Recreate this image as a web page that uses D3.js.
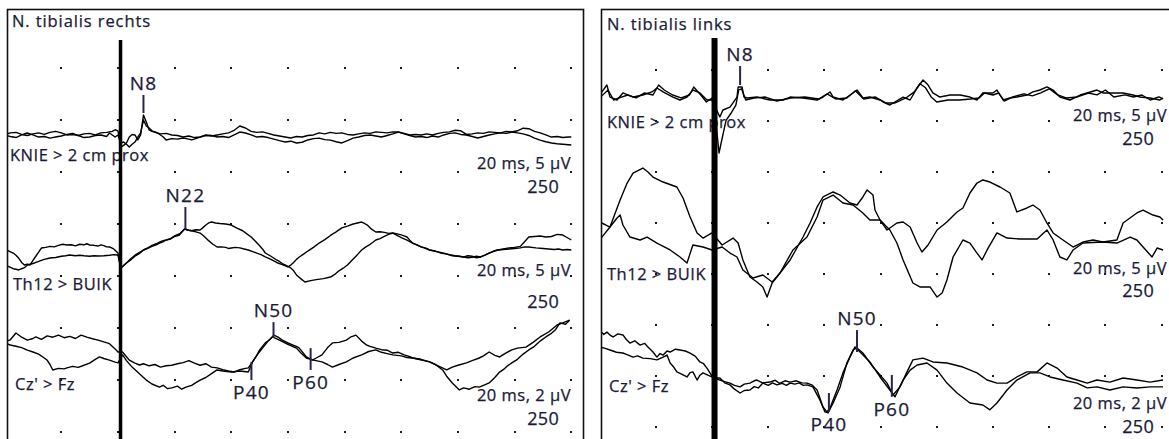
<!DOCTYPE html>
<html><head><meta charset="utf-8">
<script src="https://cdn.jsdelivr.net/npm/d3@7"></script>
<style>
body{margin:0;background:#fff}
svg{display:block}
text{font-family:"Open Sans",sans-serif;fill:#1a1a38;stroke:#1a1a38;stroke-width:0.25px}
</style>
</head><body>
<svg id="c" width="1169" height="439"></svg>
<script>
// ---------- DATA ----------
const panelTitles = ["N. tibialis rechts", "N. tibialis links"];
const traceNames = ["KNIE > 2 cm prox", "Th12 > BUIK", "Cz' > Fz"];
const scaleLabels = ["20 ms, 5 µV", "20 ms, 5 µV", "20 ms, 2 µV"];
const sweepLabels = ["250", "250", "250"];
const gridTimesMs = [-20, 0, 20, 40, 60, 80, 100, 120, 140, 160];
const gridRows = [0, 1, 2, 3, 4, 5, 6, 7];
const stimulusMs = 0.9;

// [ms, µV]
const L1a = [[-40,0.1],[-38,0.3],[-36,0.35],[-34,0.15],[-32,0.05],[-30,0.2],[-28,0.3],[-26,0.15],[-24,0.35],[-22,0.45],[-20,0.3],[-18,0.1],[-16,0.15],[-14,0.05],[-12,0.2],[-10,0.25],[-8,0.1],[-6,0.3],[-4,0.35],[-2,0.45],[-1,0.6],[0,0.5],[1,-1.06],[2,-0.9],[3,-0.67],[4,-0.1],[5,0.15],[6,0.1],[7,-0.38],[8,0.1],[9,2.02],[10,1.35],[11,0.58],[12,0.45],[13,0.38],[15,0.2],[17,0.25],[19,0.1],[21,0.05],[23,-0.1],[25,0],[27,-0.15],[29,-0.1],[31,0.05],[33,0],[35,0.1],[37,0.2],[39,0.3],[41,0.55],[43,0.96],[45,0.77],[47,0.45],[49,0.35],[51,0.4],[53,0.25],[55,0.1],[57,0],[59,-0.1],[61,-0.19],[63,-0.05],[65,-0.1],[67,0.05],[69,0.1],[71,0.3],[73,0.2],[75,0.35],[77,0.25],[79,0.3],[81,0.15],[83,0.1],[85,0.2],[87,0.3],[89,0.25],[91,0.4],[93,0.35],[95,0.3],[97,0.4],[99,0.38],[101,0.25],[103,0.1],[105,0.15],[107,0.1],[109,0.2],[111,0.1],[113,0.25],[115,0.35],[117,0.4],[119,0.55],[121,0.5],[123,0.15],[125,0.2],[127,0.3],[129,0.25],[131,0.4],[133,0.35],[135,0.3],[137,0.45],[139,0.38],[141,0.5],[143,0.75],[145,0.7],[147,0.45],[149,0.3],[151,0.1],[153,-0.1],[155,-0.05],[157,-0.15],[159,-0.1],[160,-0.1]];
const L1b = [[-40,0.1],[-38,-0.05],[-36,-0.15],[-34,0.1],[-32,0.29],[-30,0.1],[-28,-0.1],[-26,-0.05],[-24,-0.2],[-22,-0.1],[-20,0],[-18,0.15],[-16,0.25],[-14,0.05],[-12,-0.15],[-10,-0.1],[-8,0.05],[-6,0.1],[-4,-0.05],[-3,0.29],[-2,0.1],[-1,-0.1],[0,0.1],[1,-0.67],[2,-0.58],[3,-0.8],[4,-1.06],[5,-0.8],[6,-0.58],[7,-0.1],[8,0.3],[9,1.54],[10,0.96],[11,0.77],[12,0.5],[14,0.29],[16,-0.1],[17,-0.38],[19,-0.25],[21,-0.3],[23,-0.19],[25,-0.3],[26,-0.38],[28,-0.2],[31,0.1],[33,0.05],[35,-0.1],[37,-0.05],[39,-0.15],[41,0.1],[43,0.38],[45,0.29],[47,0.1],[49,-0.1],[51,-0.05],[53,-0.15],[55,-0.3],[57,-0.45],[59,-0.58],[61,-0.5],[63,-0.67],[65,-0.6],[67,-0.38],[69,-0.25],[71,-0.2],[73,-0.35],[75,-0.4],[77,-0.55],[79,-0.67],[81,-0.45],[83,-0.2],[85,-0.1],[87,0.05],[89,0.1],[91,0],[93,-0.1],[95,0.05],[97,0.2],[99,0.38],[101,0.2],[103,0.05],[105,-0.1],[107,-0.05],[109,-0.15],[111,0],[113,-0.1],[115,0.1],[117,0.25],[119,0.3],[121,0.15],[123,0.1],[125,-0.05],[127,-0.19],[129,-0.05],[131,0.1],[133,0.2],[135,0.3],[137,0.25],[139,0.38],[141,0.3],[143,0.2],[145,0.05],[147,-0.2],[149,-0.4],[151,-0.55],[153,-0.67],[155,-0.75],[157,-0.8],[160,-0.87]];
const L2a = [[-40,0],[-38.5,-0.1],[-37,-0.29],[-36,-0.5],[-35,-0.8],[-34,-1.2],[-33,-1.44],[-32,-1.35],[-31,-1.44],[-30,-1.0],[-29,-0.6],[-28,-0.2],[-27,0.19],[-25.5,0.25],[-24,0.35],[-22.5,0.3],[-21,0.45],[-19.5,0.55],[-18,0.48],[-16.5,0.5],[-15,0.4],[-13.5,0.55],[-12,0.5],[-11,0.6],[-10,0.48],[-8.5,0.45],[-7,0.38],[-6,0.5],[-5,0.42],[-4,0.3],[-3,0.29],[-1.5,0.1],[0,-0.29],[1,-1.73],[2,-1.5],[3,-1.25],[4.5,-0.95],[6,-0.6],[7.5,-0.35],[9,0],[10.5,0.15],[12,0.35],[13.5,0.5],[15,0.7],[16,0.8],[17,0.96],[18.5,1.05],[20,1.3],[21.5,1.4],[23.5,2.02],[25,1.9],[26,1.85],[27.5,1.95],[29,1.92],[30,2.15],[31,2.4],[32,2.6],[33,2.69],[34.5,2.6],[36,2.55],[38,2.5],[40,2.4],[42,2.1],[44,1.85],[45.5,1.55],[47,1.25],[48.5,0.85],[50,0.4],[51,0.1],[52,-0.29],[54,-0.6],[56,-0.96],[57,-1.1],[58,-1.3],[59.5,-1.5],[61,-1.73],[62,-2.0],[63,-2.4],[64.5,-2.75],[66,-3.08],[68,-2.95],[70,-2.85],[72.5,-2.75],[75,-2.6],[76.5,-2.35],[78,-2.0],[79.5,-1.75],[81,-1.44],[82.5,-1.0],[84,-0.6],[85,-0.3],[86,0],[87.5,0.3],[89,0.55],[90,0.75],[91,0.96],[92.5,1.1],[94,1.3],[95.5,1.5],[97,1.63],[98.5,1.55],[100,1.45],[101,1.35],[102,1.25],[103,0.95],[104,0.67],[105.5,0.5],[107,0.3],[108.5,0.2],[110,0],[112,-0.1],[114,-0.3],[116,-0.4],[118,-0.55],[120,-0.6],[122,-0.67],[123.5,-0.55],[125,-0.6],[126.5,-0.75],[128,-0.67],[129.5,-0.5],[131,-0.3],[132.5,-0.1],[134,0],[136,0.1],[138,0.2],[140,0.25],[142,0.35],[143.5,0.8],[145,1.25],[147,1.3],[149,1.35],[151,1.25],[153,1.3],[155,1.5],[157,1.44],[158.5,1.2],[160,0.96]];
const L2b = [[-40,-1.44],[-38.5,-1.6],[-37,-1.8],[-36,-1.85],[-35,-1.92],[-34,-1.8],[-33,-1.7],[-32,-1.44],[-30,-1.3],[-28,-1.1],[-26,-0.9],[-24,-0.77],[-22,-0.72],[-20,-0.6],[-18.5,-0.55],[-17,-0.48],[-15,-0.55],[-13.5,-0.5],[-12,-0.55],[-10,-0.6],[-8.5,-0.55],[-7,-0.58],[-5,-0.55],[-3,-0.5],[-1.5,-0.45],[0,-0.48],[1,-1.73],[2,-1.5],[3,-1.25],[4.5,-0.85],[6,-0.5],[7.5,-0.25],[9,0],[10.5,0.2],[12,0.45],[13.5,0.6],[15,0.8],[16,0.9],[17,0.96],[18.5,1.1],[20,1.35],[22,1.6],[23.5,2.02],[25,1.9],[26,1.85],[27.5,1.75],[29,1.63],[30.5,1.3],[32,0.9],[33.5,0.55],[35,0.29],[36.5,0.3],[38,0.25],[39,0.15],[40,0.19],[41.5,0.25],[43,0.2],[44.5,0.1],[46,0],[47.5,-0.15],[49,-0.3],[50.5,-0.45],[52,-0.67],[54,-0.9],[56,-1.2],[58,-1.4],[60,-1.63],[61,-1.45],[62,-1.2],[63,-0.9],[64,-0.67],[65.5,-0.4],[67,-0.1],[69,0.25],[71,0.67],[73,1.0],[75,1.4],[77,1.75],[79,2.12],[81,2.3],[83,2.5],[84.5,2.6],[86,2.69],[87,2.55],[88,2.4],[89.5,2.0],[91,1.73],[92.5,1.75],[94,1.7],[95.5,1.6],[97,1.63],[98.5,1.4],[100,1.2],[102,0.95],[104,0.67],[105.5,0.5],[107,0.3],[108.5,0.15],[110,0],[112.5,-0.15],[115,-0.3],[117,-0.45],[119,-0.55],[120.5,-0.6],[122,-0.67],[123.5,-0.75],[125,-0.7],[126.5,-0.6],[128,-0.67],[129.5,-0.5],[131,-0.3],[132.5,-0.15],[134,0],[136,0.05],[138,0.1],[140,0.15],[142,0.2],[143.5,0.3],[145,0.29],[147.5,0.2],[150,0.15],[152,0.1],[154,0.05],[155.5,0.1],[157,0],[158.5,0.05],[160,0]];
const L3a = [[-40,0.12],[-38,0.2],[-36,0.46],[-34,0.3],[-32,0.19],[-30,0.25],[-29,0.31],[-27,0.22],[-25,0.35],[-23,0.3],[-21,0.38],[-19,0.28],[-17,0.33],[-15,0.25],[-13,0.38],[-11,0.3],[-9,0.24],[-7,0.19],[-5,0.12],[-3,0.05],[-1,-0.15],[0,-0.27],[1.6,-0.27],[3,-0.45],[4,-0.58],[6,-0.7],[7.6,-0.77],[9,-0.72],[11,-0.8],[13,-0.75],[15,-0.85],[17,-0.8],[19,-0.78],[21,-0.72],[23,-0.68],[25,-0.6],[27,-0.7],[29,-0.78],[31,-0.72],[33,-0.85],[35,-0.88],[37,-0.95],[39,-1.0],[41,-1.04],[43,-0.95],[45,-0.9],[46,-0.88],[47.5,-0.65],[49,-0.4],[50,-0.19],[52,0.08],[53.5,0.2],[55,0.38],[56.5,0.3],[58,0.19],[60,0.08],[61.6,0],[63,-0.05],[64,-0.12],[66.5,-0.46],[68.6,-0.58],[70,-0.5],[72,-0.38],[74,-0.1],[75.7,0.08],[78,0.1],[80.6,0.19],[82,0.3],[84,0.38],[86,0.15],[87.7,0],[89,-0.05],[91,-0.12],[93,-0.18],[95,-0.2],[97,-0.31],[99,-0.28],[101,-0.38],[103,-0.45],[104,-0.5],[106,-0.55],[108,-0.6],[110,-0.65],[112,-0.75],[114.6,-0.96],[116,-1.2],[118,-1.46],[120.5,-1.73],[122,-1.65],[124,-1.7],[126,-1.6],[127.5,-1.62],[129,-1.55],[131,-1.46],[133,-1.25],[134.7,-1.04],[136,-0.95],[137.5,-0.8],[139,-0.69],[141,-0.55],[143,-0.35],[145,-0.19],[147,-0.05],[149,0.15],[151,0.31],[153,0.45],[154.5,0.6],[156,0.85],[158,0.8],[159.4,0.96]];
const L3b = [[-40,0.08],[-38,0.0],[-36,-0.05],[-34,-0.1],[-32,-0.2],[-30,-0.27],[-28,-0.35],[-26,-0.5],[-25,-0.58],[-24,-0.75],[-23,-0.96],[-21,-0.9],[-19,-0.92],[-18,-0.88],[-16,-0.82],[-14,-0.86],[-12,-0.78],[-10,-0.7],[-8,-0.55],[-6.5,-0.46],[-5,-0.52],[-3,-0.58],[-1,-0.66],[0,-0.69],[1.6,-0.38],[3,-0.6],[5,-0.85],[7,-1.05],[9,-1.25],[10,-1.35],[12,-1.5],[14.6,-1.62],[16,-1.55],[17.5,-1.68],[19,-1.65],[21,-1.58],[22.5,-1.7],[24,-1.62],[26,-1.55],[27.5,-1.45],[29,-1.35],[31,-1.25],[33,-1.1],[35,-0.96],[37,-1.0],[40,-1.04],[43,-1.0],[46,-1.04],[47.5,-0.65],[49,-0.4],[51,-0.12],[53,0.15],[54.5,0.31],[57,0.19],[60.5,0],[63,-0.12],[64.5,-0.3],[66.5,-0.5],[69,-0.58],[72,-0.65],[74,-0.75],[75.7,-0.85],[78,-0.75],[80.6,-0.65],[83,-0.5],[86,-0.38],[88.5,-0.25],[91,-0.19],[93,-0.28],[95,-0.33],[97,-0.38],[100,-0.42],[102,-0.48],[104,-0.5],[107,-0.55],[110,-0.65],[113,-0.8],[116,-0.96],[118,-0.85],[120,-0.78],[123,-0.69],[125,-0.6],[127.5,-0.5],[129,-0.42],[131,-0.27],[133,-0.4],[134.7,-0.46],[137,-0.3],[139,-0.19],[141,-0.12],[144,-0.08],[146.5,0.1],[149,0.31],[152,0.5],[155,0.77],[157,0.85],[159.4,0.96]];

const R1a = [[-40,0.49],[-37.4,1.47],[-36.3,0.29],[-33.8,0],[-31.7,0.69],[-28,0.29],[-24.6,0.49],[-21.4,0.79],[-19.6,1.18],[-17.4,0.79],[-13.9,0.29],[-11.4,0],[-8.9,0.29],[-6.8,0.98],[-4.3,0.69],[-1.8,0],[0,0],[2.8,-1.67],[3.9,-0.98],[6.4,-0.69],[8.9,0.29],[9.3,1.28],[10.7,1.28],[11.4,0.29],[12.5,0.2],[16,0.29],[20.6,0],[25.3,0],[27.8,0.29],[32.4,0.2],[37.4,0],[39.5,0.29],[42,0.79],[43.1,0.29],[46.6,0],[50.2,0.69],[51.6,0.98],[53.7,0.2],[56.2,0.29],[59.8,0],[60.9,-0.2],[63.3,-0.49],[68,0.29],[70.5,0],[73,1.18],[75.1,1.96],[76.9,1.47],[78.6,0.69],[81.1,0.29],[84.7,0.49],[88.3,0.49],[91.8,0.29],[94.3,0],[96.4,0.69],[100,0.69],[101.4,0.98],[103.6,0],[106,0.2],[108.5,0.29],[112.1,0.49],[114.2,0.79],[116.7,0.98],[119.2,1.28],[121.4,0.98],[123.8,0.29],[127.4,0],[131,0.49],[133.5,0.69],[137,0.98],[139.1,0.69],[142.7,0.69],[146.3,0.69],[149.8,0.49],[152.3,0.29],[155.9,0.2],[159.4,0],[160.5,0.2]];
const R1b = [[-40,0.2],[-37,0.98],[-35,0],[-33,0.2],[-30,0.49],[-27,0.2],[-24,0.69],[-21,0.49],[-19,1.47],[-17,0.98],[-14,0.49],[-11,0.2],[-8,0.49],[-6.5,1.28],[-4,0.49],[-2,-0.2],[0,0.2],[1.5,-2.5],[2.5,-5.2],[3.5,-3.9],[5,-2.0],[7,-1.2],[8.5,-0.5],[9.5,1.0],[10.5,1.1],[12,0],[15,0.2],[19,0.29],[23,-0.1],[28,0.2],[33,0.3],[38,0.1],[41,0.6],[44,0.1],[48,0.2],[51,0.9],[54,0.1],[58,0.3],[62,-0.3],[65,-0.3],[69,0.2],[72,0.8],[74,1.6],[76,1.2],[78,0.3],[80,-0.2],[84,0],[88,0],[92,0.1],[95,0.2],[97,0.69],[100,0.49],[102,0.69],[104,-0.1],[107,0.3],[111,0.6],[114,0.4],[117,0.7],[120,1.1],[123,0.5],[126,0.2],[130,0.3],[134,0.69],[137,0.5],[140,0.98],[143,0.3],[147,0.5],[150,0.29],[153,0.49],[156,0],[159,0.3],[160.5,0.1]];
const R2a = [[-40,-0.98],[-36.3,0.29],[-32.7,2.94],[-30.2,4.61],[-28.1,5.59],[-24.6,6.08],[-22.8,5.69],[-21,5.2],[-17.4,4.71],[-12.5,4.22],[-10.3,3.14],[-7.8,1.28],[-5.3,-0.29],[-3.2,-0.79],[0,-0.29],[3.6,-1.47],[5.3,-1.18],[7.5,-0.79],[9.3,-1.28],[11,-2.94],[13.5,-4.61],[16,-5.1],[18.1,-5.59],[19.6,-6.58],[21.4,-5.2],[23.1,-4.61],[27.8,-2.94],[32.4,-0.69],[34.9,0.69],[37.4,2.26],[39.5,3.24],[43.1,3.73],[45.6,3.43],[49.1,2.65],[51.6,2.45],[53.7,3.24],[55.2,3.93],[57.3,3.43],[58,1.96],[59.8,0.98],[62.3,0],[65.8,0.69],[68,0.79],[70.5,0.29],[73,-1.28],[74.7,-2.16],[76.9,-1.47],[80.1,0],[83.6,0.79],[87.2,1.77],[89.3,2.16],[91.8,3.63],[94.3,4.61],[96.4,4.91],[98.9,4.71],[102.5,4.22],[106,3.63],[108.5,1.77],[112.1,2.16],[114.2,2.45],[116.7,1.96],[119.2,0.69],[121.4,-0.29],[124.9,-0.98],[128.5,-1.67],[132,-1.18],[135.6,-0.98],[139.1,-1.18],[144.1,-0.98],[146.3,0.69],[151.2,1.67],[153.4,1.96],[156.9,1.47],[159.4,1.28],[160.5,0.98]];
const R2b = [[-40,0.79],[-36.3,0.29],[-33.8,1.18],[-32.7,1.47],[-31.7,0.49],[-29.2,-0.69],[-25.6,-0.98],[-23.1,-0.69],[-19.6,-1.28],[-14.9,-1.96],[-11.4,-2.65],[-8.9,-3.24],[-6.8,-1.47],[-3.2,-1.67],[0,-1.96],[3.6,-1.67],[6.4,-2.26],[8.9,-2.65],[11,-3.93],[14.6,-4.71],[18.1,-4.42],[21.4,-5.1],[24.2,-4.22],[28.8,-1.96],[33.8,-0.69],[37.4,1.28],[39.5,2.94],[43.1,3.43],[46.6,2.65],[50.2,2.45],[53.7,1.67],[56.2,0.98],[59.8,0.98],[63.3,0],[65.8,-1.28],[68,-2.94],[71.5,-5.2],[74,-5.59],[77.6,-5.59],[80.1,-6.58],[81.9,-6.18],[83.6,-4.91],[85.8,-2.65],[89.3,-0.98],[91.8,-1.28],[94.3,-2.26],[96.1,-2.94],[97.9,-1.96],[101.4,-0.29],[105,-0.79],[109.6,-0.88],[115.7,-0.88],[119.2,0],[121.4,-0.98],[123.8,-2.65],[126.3,-2.94],[128.5,-1.96],[132,-1.28],[139.1,-1.18],[144.1,-1.28],[148.8,-0.69],[151.2,-0.98],[153.4,-1.67],[156.6,-2.65],[158.4,-1.77],[160.5,-1.96]];
const R3a = [[-40,1.37],[-38.5,1.2],[-37.4,1.29],[-36,1.15],[-35.2,1.1],[-33.5,1.22],[-31.7,1.18],[-30.5,1.0],[-29.2,0.86],[-27.5,0.95],[-25.6,0.78],[-24,0.85],[-22.8,0.71],[-21,0.51],[-19.6,0.31],[-18.5,0.45],[-17.4,0.39],[-16,0.55],[-14.9,0.51],[-13,0.62],[-11.4,0.59],[-9.5,0.55],[-7.8,0.47],[-6,0.35],[-4.3,0.12],[-3,0.05],[-1.8,-0.12],[0.4,-0.51],[2.8,-0.51],[4.5,-0.7],[6.4,-0.78],[8,-0.95],[10,-1.1],[11.5,-1.0],[13.5,-0.98],[15,-0.85],[16.5,-0.9],[18.1,-0.71],[20,-0.8],[21.5,-0.7],[23.1,-0.78],[25,-0.72],[26.5,-0.8],[27.8,-0.71],[29.5,-0.75],[31,-0.7],[32.5,-0.8],[33.8,-0.78],[35.9,-0.86],[38.4,-1.37],[40.2,-1.84],[41.3,-1.88],[43.1,-1.49],[45.6,-0.86],[48,0.08],[50.2,0.59],[51.6,0.67],[53.7,0.47],[57.3,-0.08],[59.8,-0.39],[62.3,-0.71],[64.4,-1.18],[66.9,-0.86],[69.4,-0.27],[71.5,0.2],[75.1,0.27],[78.6,0.12],[83.6,0.08],[89.3,-0.08],[94.3,-0.31],[97.9,-0.59],[101.4,-0.71],[105,-0.71],[108.5,-0.47],[112.1,-0.27],[115.7,-0.27],[119.2,0.08],[122.8,-0.12],[126.3,-0.47],[129.9,-0.59],[133.5,-0.71],[137,-0.59],[141.6,-0.67],[146.3,-0.51],[151.2,-0.59],[155.9,-0.67],[160.5,-0.59]];
const R3b = [[-40,0.71],[-38,0.65],[-36.3,0.59],[-34,0.5],[-31.7,0.47],[-30,0.4],[-28.1,0.31],[-26.5,0.36],[-24.6,0.27],[-22,0.25],[-19.6,0.2],[-17.4,0.31],[-16,0.39],[-14.9,0.08],[-13.5,-0.1],[-12.5,-0.27],[-11,-0.35],[-8.9,-0.47],[-7.8,-0.3],[-6.8,-0.27],[-5.3,-0.59],[-4.3,-0.4],[-3.2,-0.31],[-1.5,-0.4],[0,-0.47],[2.8,-0.59],[4.5,-0.65],[6.4,-0.71],[8,-0.8],[10,-0.86],[11.5,-0.75],[13.5,-0.71],[15,-0.62],[16,-0.59],[18,-0.7],[20.6,-0.67],[22.5,-0.6],[24,-0.72],[26,-0.62],[27.8,-0.67],[30,-0.62],[32,-0.7],[33.8,-0.71],[35.5,-0.78],[37.4,-0.98],[39.5,-1.65],[40.9,-1.84],[42,-1.69],[44.5,-0.98],[46.6,-0.31],[49.1,0.31],[50.9,0.71],[52.7,0.51],[56.2,0.12],[59.8,-0.47],[63.3,-0.98],[65.1,-1.25],[68,-0.59],[70.5,-0.2],[73,0],[76.5,0.08],[80.1,-0.2],[83.6,-0.71],[87.2,-1.1],[91.8,-1.49],[96.4,-1.57],[98.9,-1.76],[101.4,-1.49],[105,-0.98],[108.5,-0.59],[113.2,-0.31],[116.7,-0.31],[120.3,-0.47],[124.9,-0.59],[129.9,-0.71],[133.5,-0.9],[137,-0.86],[141.6,-0.98],[146.3,-0.86],[151.2,-0.9],[155.9,-0.86],[160.5,-0.86]];

// latency markers: trace index, label, ms, tick top µV, tick bottom µV, polarity
const leftMarkers = [
  {trace:0,label:"N8", t:9.0, top:3.94, bot:2.21, pol:"N"},
  {trace:1,label:"N22",t:23.8,top:4.13, bot:2.02, pol:"N"},
  {trace:2,label:"N50",t:54.9,top:0.88, bot:0.27, pol:"N"},
  {trace:2,label:"P40",t:47.1,top:-0.65,bot:-1.35,pol:"P"},
  {trace:2,label:"P60",t:68.0,top:-0.12,bot:-0.96,pol:"P"}
];
const rightMarkers = [
  {trace:0,label:"N8", t:10.0,top:3.34, bot:1.47, pol:"N"},
  {trace:2,label:"N50",t:51.6,top:1.37, bot:0.51, pol:"N"},
  {trace:2,label:"P40",t:41.6,top:-1.1, bot:-1.84,pol:"P"},
  {trace:2,label:"P60",t:64.0,top:-0.39,bot:-1.25,pol:"P"}
];

// ---------- LAYOUT ----------
const svg = d3.select("#c");
const panels = [
  {title:panelTitles[0], box:[7.5,9.5,576,440], xr:[61.3,571.3], rows:[68,432], stimW:3.5, stimTop:40,
   titlePos:[12,27], traces:[[L1a,L1b],[L2a,L2b],[L3a,L3b]], uvDiv:[5,5,2], divPx:52, zero:[136,250,345],
   namePos:[[10,161],[13,290],[15,390]], scaleR:571, scaleY:[169,276,401], sweepR:559, sweepY:[193,308,425],
   markers:leftMarkers},
  {title:panelTitles[1], box:[601.5,9.5,576,440], xr:[655.8,1161.6], rows:[70,426.7], stimW:6, stimTop:38,
   titlePos:[607,30], traces:[[R1a,R1b],[R2a,R2b],[R3a,R3b]], uvDiv:[5,5,2], divPx:50.95, zero:[100,230,365],
   namePos:[[607,128],[607,280],[609,392]], scaleR:1167, scaleY:[121,274,409], sweepR:1154, sweepY:[145,297,433],
   markers:rightMarkers}
];

panels.forEach((p,pi)=>{
  const g = svg.append("g");
  const [bx,by,bw,bh] = p.box;
  const clipId = "clip"+pi;
  svg.append("clipPath").attr("id",clipId).append("rect").attr("x",bx).attr("y",by).attr("width",bw).attr("height",bh);

  const x = d3.scaleLinear().domain([-20,160]).range(p.xr);
  const row = d3.scaleLinear().domain([0,7]).range(p.rows);

  // dot grid
  const gg = g.append("g").attr("clip-path",`url(#${clipId})`);
  gridRows.forEach(r=>{
    gridTimesMs.forEach(t=>{
      gg.append("rect").attr("x",Math.round(x(t))-1).attr("y",Math.round(row(r))-1)
        .attr("width",2).attr("height",2).attr("fill","#1a1a1a");
    });
  });

  // traces
  const tg = g.append("g").attr("clip-path",`url(#${clipId})`);
  p.traces.forEach((pair,ti)=>{
    const y = d3.scaleLinear().domain([0,p.uvDiv[ti]]).range([p.zero[ti], p.zero[ti]-p.divPx]);
    const line = d3.line().x(d=>x(d[0])).y(d=>y(d[1]));
    pair.forEach(series=>{
      tg.append("path").attr("d",line(series)).attr("fill","none")
        .attr("stroke","#000").attr("stroke-width",1.4).attr("stroke-linejoin","round");
    });
    g.append("text").attr("x",p.namePos[ti][0]).attr("y",p.namePos[ti][1])
      .style("font-size","16.5px").style("letter-spacing","0.5px").text(traceNames[ti]);
    g.append("text").attr("x",p.scaleR).attr("y",p.scaleY[ti]).attr("text-anchor","end")
      .style("font-size","16.5px").style("letter-spacing","0.5px").text(scaleLabels[ti]);
    g.append("text").attr("x",p.sweepR).attr("y",p.sweepY[ti]).attr("text-anchor","end")
      .style("font-size","18px").style("letter-spacing","0.3px").text(sweepLabels[ti]);
  });

  // markers
  p.markers.forEach(m=>{
    const y = d3.scaleLinear().domain([0,p.uvDiv[m.trace]]).range([p.zero[m.trace], p.zero[m.trace]-p.divPx]);
    const mx = x(m.t);
    g.append("line").attr("x1",mx).attr("x2",mx).attr("y1",y(m.top)).attr("y2",y(m.bot))
      .attr("stroke","#26264a").attr("stroke-width",2);
    const ly = m.pol==="N" ? y(m.top)-5 : y(m.bot)+19;
    g.append("text").attr("x",mx).attr("y",ly).attr("text-anchor","middle")
      .style("font-size","19px").style("letter-spacing","1.2px").text(m.label);
  });

  // stimulus line
  g.append("line").attr("x1",x(stimulusMs)).attr("x2",x(stimulusMs)).attr("y1",p.stimTop).attr("y2",439)
    .attr("stroke","#000").attr("stroke-width",p.stimW);

  // box
  g.append("rect").attr("x",bx).attr("y",by).attr("width",bw).attr("height",bh)
    .attr("fill","none").attr("stroke","#111").attr("stroke-width",1.6);
  // title
  g.append("text").attr("x",p.titlePos[0]).attr("y",p.titlePos[1])
    .style("font-size","16.5px").style("letter-spacing","0.9px").text(p.title);
});
</script>
</body></html>
